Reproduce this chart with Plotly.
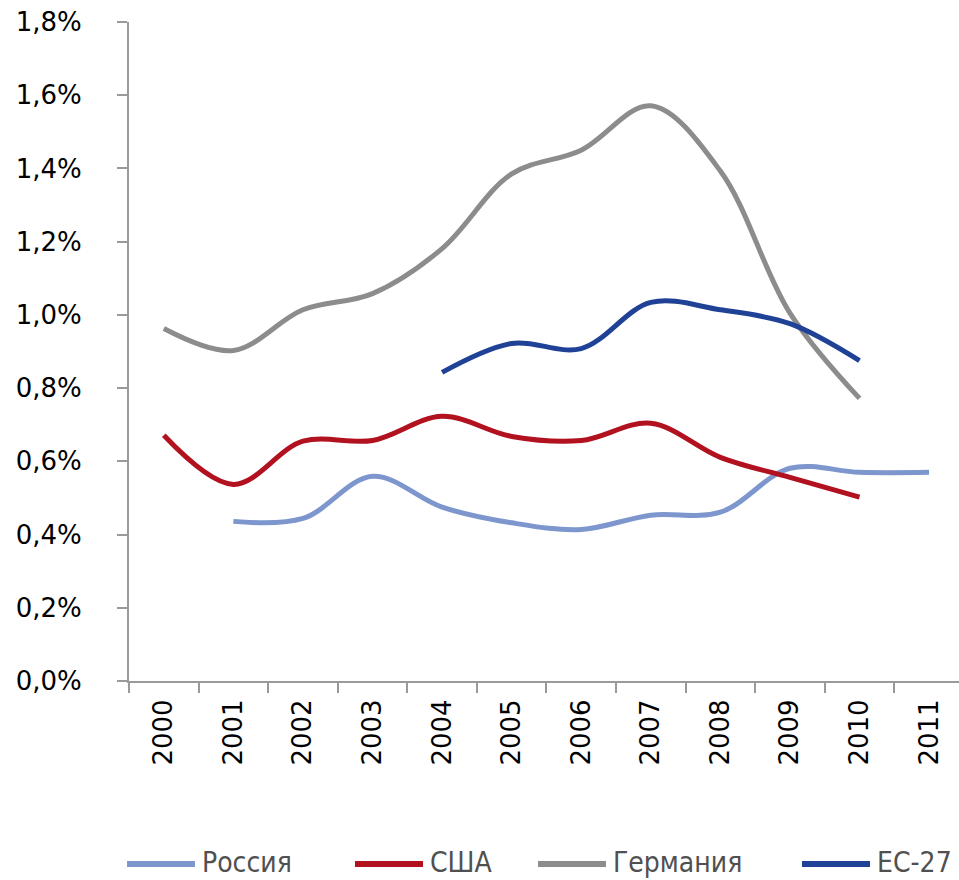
import plotly.graph_objects as go

years = ["2000", "2001", "2002", "2003", "2004", "2005",
         "2006", "2007", "2008", "2009", "2010", "2011"]

# Shares in percent; None where no value is published
russia = [None, 0.436, 0.444, 0.559, 0.475, 0.432, 0.414, 0.453, 0.461, 0.581, 0.570, 0.570]
usa = [0.671, 0.537, 0.655, 0.657, 0.723, 0.668, 0.657, 0.704, 0.611, 0.556, 0.502, None]
germany = [0.963, 0.903, 1.014, 1.058, 1.181, 1.385, 1.450, 1.571, 1.393, 1.005, 0.772, None]
eu27 = [None, None, None, None, 0.843, 0.922, 0.908, 1.034, 1.014, 0.976, 0.875, None]

names = ["Россия", "США", "Германия", "ЕС-27"]
colors = ["#7D96CD", "#B2111F", "#8C8C8C", "#1F4196"]
values = [russia, usa, germany, eu27]

W, H = 959, 880
M_L, M_R, M_T, M_B = 129, 0, 22, 199
plot_w = W - M_L - M_R
plot_h = H - M_T - M_B


def px_x(px):
    return (px - M_L) / plot_w


def px_y(py):
    return (H - M_B - py) / plot_h


fig = go.Figure()
for name, vals, color in zip(names, values, colors):
    fig.add_trace(go.Scatter(
        x=years, y=vals, name=name, mode="lines",
        line=dict(color=color, width=5, shape="spline", smoothing=1.0),
        connectgaps=False, showlegend=False,
    ))

# Legend row drawn below the axis: sample stroke followed by the series name
legend_left = [127, 355, 538, 802]
sample_len = 68
legend_y = 864
shapes = []
annotations = []
for name, color, left in zip(names, colors, legend_left):
    shapes.append(dict(
        type="line", xref="paper", yref="paper",
        x0=px_x(left), x1=px_x(left + sample_len),
        y0=px_y(legend_y), y1=px_y(legend_y),
        line=dict(color=color, width=6),
    ))
    annotations.append(dict(
        xref="paper", yref="paper", x=px_x(left + sample_len + 6), y=px_y(legend_y - 2),
        xanchor="left", yanchor="middle", showarrow=False, text=name, borderpad=0,
        font=dict(family="DejaVu Sans Condensed, DejaVu Sans", size=28, color="#505050"),
    ))

axis_grey = "#9A9A9A"
tick_font = dict(family="DejaVu Sans", size=26, color="#000000")

fig.update_layout(
    width=W, height=H,
    margin=dict(l=M_L, r=M_R, t=M_T, b=M_B),
    paper_bgcolor="white", plot_bgcolor="white",
    showlegend=False,
    shapes=shapes,
    annotations=annotations,
    xaxis=dict(
        type="category", range=[-0.5, 11.43], automargin=False,
        showline=True, linecolor=axis_grey, linewidth=2,
        ticks="outside", ticklen=10, tickcolor=axis_grey, tickwidth=2,
        tickson="boundaries", tickangle=-90, tickfont=tick_font,
        showgrid=False, zeroline=False, ticklabelstandoff=6,
    ),
    yaxis=dict(
        range=[0, 1.8], automargin=False,
        tickvals=[0, 0.2, 0.4, 0.6, 0.8, 1.0, 1.2, 1.4, 1.6, 1.8],
        ticktext=["0,0%", "0,2%", "0,4%", "0,6%", "0,8%", "1,0%", "1,2%", "1,4%", "1,6%", "1,8%"],
        showline=True, linecolor=axis_grey, linewidth=2,
        ticks="outside", ticklen=10, tickcolor=axis_grey, tickwidth=2,
        tickfont=tick_font, showgrid=False, zeroline=False, ticklabelstandoff=30,
    ),
)

fig.write_html("out.html")
